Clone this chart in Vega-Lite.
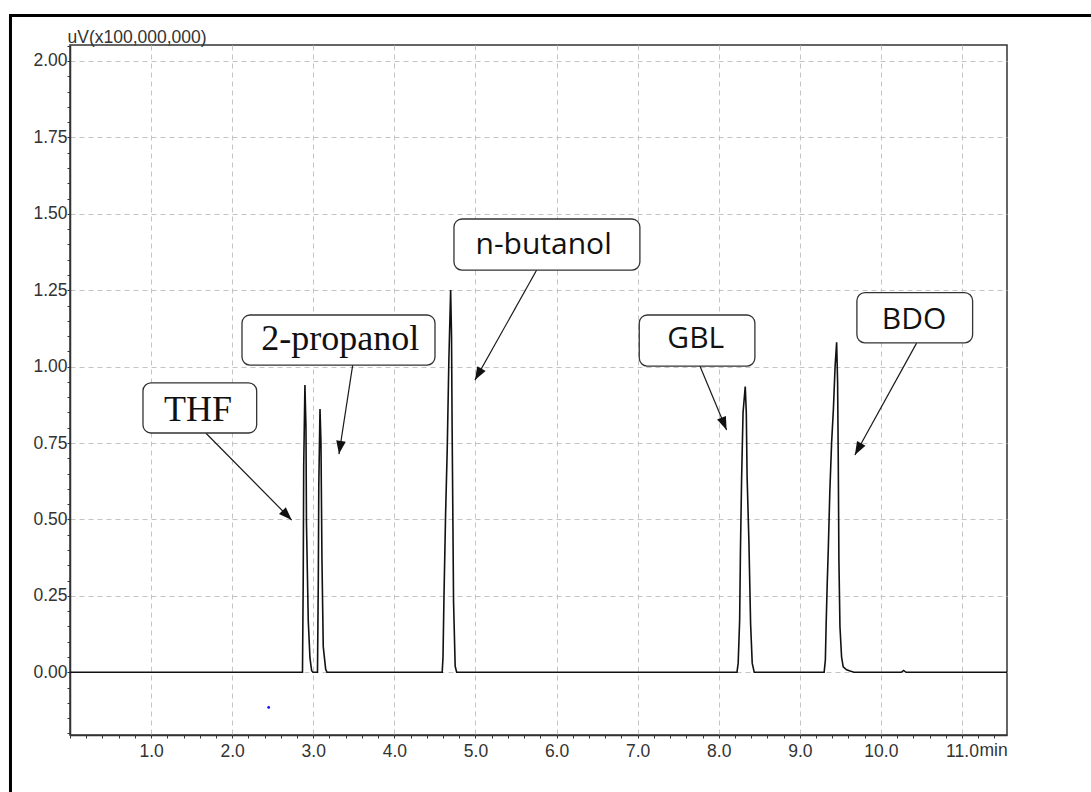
{
  "$schema": "https://vega.github.io/schema/vega-lite/v6.json",
  "width": 937,
  "height": 690,
  "autosize": {"type": "none"},
  "padding": {"left": 70, "top": 45, "right": 84, "bottom": 57},
  "background": "white",
  "config": {
    "view": {"stroke": "#333", "strokeWidth": 1.5},
    "font": "Liberation Sans"
  },
  "datasets": {
    "trace": [
      {"t": 0, "v": 0},
      {"t": 2.867, "v": 0}, {"t": 2.876, "v": 0.30}, {"t": 2.882, "v": 0.675}, {"t": 2.897, "v": 0.94},
      {"t": 2.910, "v": 0.80}, {"t": 2.916, "v": 0.49}, {"t": 2.938, "v": 0.17}, {"t": 2.959, "v": 0.047},
      {"t": 2.980, "v": 0.005}, {"t": 2.996, "v": 0},
      {"t": 3.052, "v": 0}, {"t": 3.062, "v": 0.30}, {"t": 3.068, "v": 0.61}, {"t": 3.083, "v": 0.861},
      {"t": 3.095, "v": 0.75}, {"t": 3.107, "v": 0.37}, {"t": 3.123, "v": 0.084}, {"t": 3.153, "v": 0.01},
      {"t": 3.169, "v": 0},
      {"t": 4.590, "v": 0}, {"t": 4.600, "v": 0.05}, {"t": 4.612, "v": 0.25}, {"t": 4.632, "v": 0.52},
      {"t": 4.652, "v": 0.73}, {"t": 4.672, "v": 1.02}, {"t": 4.694, "v": 1.251}, {"t": 4.705, "v": 1.10},
      {"t": 4.712, "v": 0.81}, {"t": 4.730, "v": 0.23}, {"t": 4.750, "v": 0.02}, {"t": 4.768, "v": 0},
      {"t": 8.225, "v": 0}, {"t": 8.240, "v": 0.03}, {"t": 8.258, "v": 0.17}, {"t": 8.268, "v": 0.40},
      {"t": 8.282, "v": 0.63}, {"t": 8.300, "v": 0.85}, {"t": 8.327, "v": 0.935}, {"t": 8.340, "v": 0.85},
      {"t": 8.350, "v": 0.64}, {"t": 8.372, "v": 0.43}, {"t": 8.393, "v": 0.16}, {"t": 8.413, "v": 0.03},
      {"t": 8.438, "v": 0},
      {"t": 9.300, "v": 0}, {"t": 9.315, "v": 0.04}, {"t": 9.325, "v": 0.16}, {"t": 9.338, "v": 0.29},
      {"t": 9.352, "v": 0.41}, {"t": 9.370, "v": 0.59}, {"t": 9.392, "v": 0.75}, {"t": 9.414, "v": 0.86},
      {"t": 9.435, "v": 1.00}, {"t": 9.454, "v": 1.08}, {"t": 9.466, "v": 0.95}, {"t": 9.474, "v": 0.70},
      {"t": 9.482, "v": 0.37}, {"t": 9.495, "v": 0.15}, {"t": 9.515, "v": 0.05}, {"t": 9.535, "v": 0.018},
      {"t": 9.577, "v": 0.008}, {"t": 9.620, "v": 0.004}, {"t": 9.667, "v": 0},
      {"t": 10.25, "v": 0}, {"t": 10.28, "v": 0.006}, {"t": 10.31, "v": 0},
      {"t": 11.555, "v": 0}
    ],
    "boxes": [
      {"label": "THF", "t": 0.900, "t2": 2.302, "v": 0.947, "v2": 0.783},
      {"label": "2-propanol", "t": 2.121, "t2": 4.501, "v": 1.169, "v2": 1.005},
      {"label": "n-butanol", "t": 4.735, "t2": 7.028, "v": 1.483, "v2": 1.316},
      {"label": "GBL", "t": 7.020, "t2": 8.446, "v": 1.169, "v2": 1.002},
      {"label": "BDO", "t": 9.704, "t2": 11.131, "v": 1.242, "v2": 1.078}
    ],
    "captions": [
      {"label": "THF", "t": 1.578, "v": 0.858},
      {"label": "2-propanol", "t": 3.332, "v": 1.090},
      {"label": "n-butanol", "t": 5.841, "v": 1.398},
      {"label": "GBL", "t": 7.717, "v": 1.089},
      {"label": "BDO", "t": 10.409, "v": 1.154}
    ],
    "arrows": [
      {"label": "THF", "t2": 1.677, "v2": 0.782, "t": 2.734, "v": 0.498},
      {"label": "2-propanol", "t2": 3.486, "v2": 1.005, "t": 3.317, "v": 0.714},
      {"label": "n-butanol", "t2": 5.755, "v2": 1.316, "t": 4.994, "v": 0.956},
      {"label": "GBL", "t2": 7.768, "v2": 1.002, "t": 8.097, "v": 0.793},
      {"label": "BDO", "t2": 10.440, "v2": 1.077, "t": 9.679, "v": 0.711}
    ],
    "marker": [{"t": 2.45, "v": -0.115}],
    "frame": [{"t": -0.734, "t2": 13.5, "v": 2.149, "v2": -0.6}]
  },
  "encoding": {
    "x": {
      "field": "t", "type": "quantitative",
      "scale": {"domain": [0, 11.555], "nice": false, "zero": false},
      "axis": {
        "values": [0, 0.2, 0.4, 0.6, 0.8, 1, 1.2, 1.4, 1.6, 1.8, 2, 2.2, 2.4, 2.6, 2.8, 3, 3.2, 3.4, 3.6, 3.8, 4, 4.2, 4.4, 4.6, 4.8, 5, 5.2, 5.4, 5.6, 5.8, 6, 6.2, 6.4, 6.6, 6.8, 7, 7.2, 7.4, 7.6, 7.8, 8, 8.2, 8.4, 8.6, 8.8, 9, 9.2, 9.4, 9.6, 9.8, 10, 10.2, 10.4, 10.6, 10.8, 11, 11.2, 11.4],
        "labelExpr": "abs(datum.value - round(datum.value)) < 0.001 && datum.value > 0.5 ? format(datum.value, '.1f') : ''",
        "labelFont": "Liberation Sans", "labelFontSize": 17.5, "labelColor": "#333",
        "labelPadding": 4, "labelFlush": false, "labelOverlap": false, "labelBound": false,
        "tickSize": 3, "tickColor": "#333", "domainColor": "#333", "domainWidth": 1.5,
        "grid": true, "gridColor": "#c4c4c4", "gridDash": [5, 4], "gridWidth": 1,
        "gridOpacity": {"condition": {"test": "abs(datum.value - round(datum.value)) < 0.001 && datum.value > 0.5", "value": 1}, "value": 0},
        "title": "min", "titleX": 909, "titleY": 20, "titleAlign": "left", "titleBaseline": "alphabetic",
        "titleFont": "Liberation Sans", "titleFontSize": 17.5, "titleFontWeight": "normal", "titleColor": "#333"
      }
    },
    "y": {
      "field": "v", "type": "quantitative",
      "scale": {"domain": [-0.2051, 2.0523], "nice": false, "zero": false},
      "axis": {
        "values": [-0.2, -0.15, -0.1, -0.05, 0, 0.05, 0.1, 0.15, 0.2, 0.25, 0.3, 0.35, 0.4, 0.45, 0.5, 0.55, 0.6, 0.65, 0.7, 0.75, 0.8, 0.85, 0.9, 0.95, 1, 1.05, 1.1, 1.15, 1.2, 1.25, 1.3, 1.35, 1.4, 1.45, 1.5, 1.55, 1.6, 1.65, 1.7, 1.75, 1.8, 1.85, 1.9, 1.95, 2, 2.05],
        "labelExpr": "abs(datum.value * 4 - round(datum.value * 4)) < 0.001 && datum.value > -0.01 ? format(datum.value, '.2f') : ''",
        "labelFont": "Liberation Sans", "labelFontSize": 17.5, "labelColor": "#333",
        "labelPadding": 0, "labelFlush": false, "labelOverlap": false, "labelBound": false,
        "tickSize": 3, "tickColor": "#333", "domainColor": "#333", "domainWidth": 1.5,
        "grid": true, "gridColor": "#c4c4c4", "gridDash": [5, 4], "gridWidth": 1,
        "gridOpacity": {"condition": {"test": "abs(datum.value * 4 - round(datum.value * 4)) < 0.001 && datum.value > -0.01", "value": 1}, "value": 0},
        "title": "uV(x100,000,000)", "titleAngle": 0, "titleX": -3, "titleY": -3,
        "titleAlign": "left", "titleBaseline": "alphabetic",
        "titleFont": "Liberation Sans", "titleFontSize": 17.5, "titleFontWeight": "normal", "titleColor": "#333"
      }
    }
  },
  "layer": [
    {
      "data": {"name": "frame"},
      "mark": {"type": "rect", "fillOpacity": 0, "stroke": "black", "strokeWidth": 3, "clip": false},
      "encoding": {"x2": {"field": "t2"}, "y2": {"field": "v2"}}
    },
    {
      "data": {"name": "trace"},
      "mark": {"type": "line", "color": "#111", "strokeWidth": 1.6}
    },
    {
      "data": {"name": "marker"},
      "mark": {"type": "point", "filled": true, "color": "#1010ff", "size": 8, "opacity": 1}
    },
    {
      "data": {"name": "arrows"},
      "mark": {"type": "rule", "color": "#1a1a1a", "strokeWidth": 1.2},
      "encoding": {"x2": {"field": "t2"}, "y2": {"field": "v2"}}
    },
    {
      "data": {"name": "arrows"},
      "transform": [
        {"calculate": "atan2((datum.t - datum.t2) * 81.1, (datum.v - datum.v2) * 305.65) * 180 / PI", "as": "heading"}
      ],
      "mark": {"type": "point", "shape": "M0,0L-0.8,2.2L0.8,2.2Z", "filled": true, "color": "#111", "size": 144, "opacity": 1},
      "encoding": {"angle": {"field": "heading", "type": "quantitative", "scale": null}}
    },
    {
      "data": {"name": "boxes"},
      "mark": {"type": "rect", "fill": "white", "stroke": "#333", "strokeWidth": 1.3, "cornerRadius": 8},
      "encoding": {"x2": {"field": "t2"}, "y2": {"field": "v2"}}
    },
    {
      "data": {"name": "captions"},
      "transform": [{"filter": "datum.label === 'THF' || datum.label === '2-propanol'"}],
      "mark": {"type": "text", "font": "Liberation Serif", "fontSize": 36, "color": "#111", "align": "center", "baseline": "middle"},
      "encoding": {"text": {"field": "label"}}
    },
    {
      "data": {"name": "captions"},
      "transform": [{"filter": "datum.label !== 'THF' && datum.label !== '2-propanol'"}],
      "mark": {"type": "text", "font": "Open Sans", "fontSize": 30, "color": "#111", "align": "center", "baseline": "middle"},
      "encoding": {"text": {"field": "label"}}
    }
  ]
}
